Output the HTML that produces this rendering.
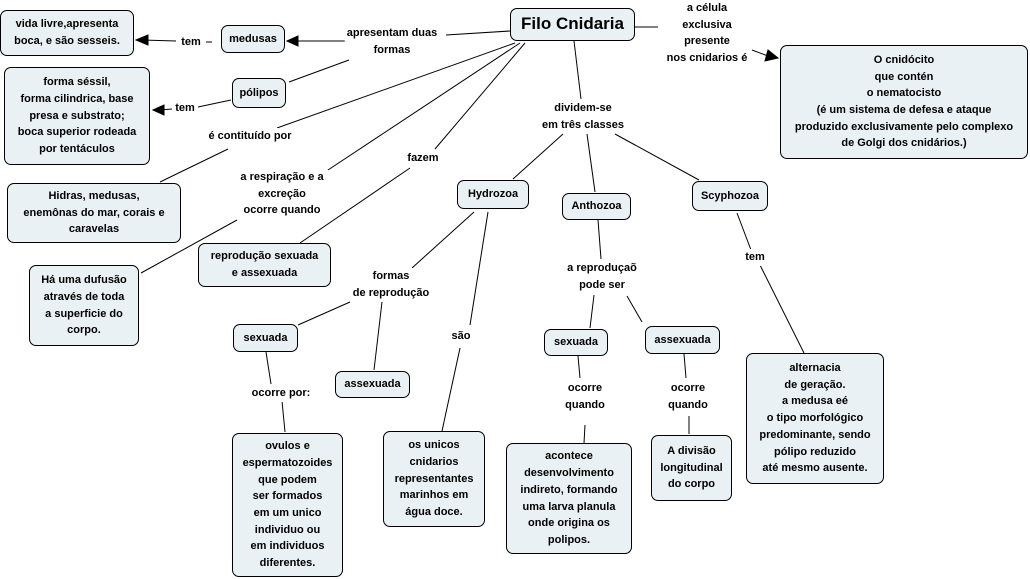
<!DOCTYPE html>
<html><head><meta charset="utf-8"><style>
body{margin:0;width:1030px;height:579px;background:#fff;position:relative;overflow:hidden;font-family:"Liberation Sans",sans-serif;font-weight:bold;font-size:11px;color:#000}
.b{position:absolute;box-sizing:border-box;background:#eaf1f4;border:1px solid #000;border-radius:7px;display:flex;align-items:center;justify-content:center;text-align:center;line-height:16.7px}
.l{position:absolute;text-align:center;line-height:16.7px;background:#fff;transform:translateX(-50%);white-space:nowrap;padding:0 2px}
svg{position:absolute;left:0;top:0}
</style></head><body>
<svg width="1030" height="579" stroke="#000" stroke-width="1" fill="none">
<line x1="510" y1="31" x2="446" y2="35"/>
<line x1="349" y1="41" x2="291" y2="41"/>
<polygon points="287,41 298,36 298,46" fill="#000"/>
<line x1="212" y1="42" x2="206" y2="42"/>
<line x1="176" y1="41" x2="142" y2="40"/>
<polygon points="136,40 148,35 148,45" fill="#000"/>
<line x1="349" y1="60" x2="289" y2="82"/>
<line x1="231" y1="100" x2="198" y2="107"/>
<line x1="172" y1="109" x2="160" y2="110"/>
<polygon points="153,110 164,105 164,115" fill="#000"/>
<line x1="515" y1="43" x2="277" y2="128"/>
<line x1="228" y1="149" x2="160" y2="182"/>
<line x1="520" y1="43" x2="328" y2="170"/>
<line x1="237" y1="220" x2="141" y2="273"/>
<line x1="525" y1="43" x2="435" y2="149"/>
<line x1="410" y1="168" x2="300" y2="243"/>
<line x1="634" y1="27" x2="658" y2="27"/>
<line x1="752" y1="50" x2="768" y2="56"/>
<polygon points="778,58 765,61 768,50" fill="#000"/>
<line x1="574" y1="41" x2="581" y2="99"/>
<line x1="563" y1="134" x2="513" y2="179"/>
<line x1="587" y1="134" x2="595" y2="192"/>
<line x1="615" y1="134" x2="699" y2="180"/>
<line x1="474" y1="212" x2="412" y2="268"/>
<line x1="488" y1="212" x2="470" y2="325"/>
<line x1="460" y1="348" x2="442" y2="431"/>
<line x1="350" y1="302" x2="298" y2="325"/>
<line x1="382" y1="302" x2="374" y2="370"/>
<line x1="266" y1="352" x2="271" y2="384"/>
<line x1="282" y1="401" x2="285" y2="432"/>
<line x1="598" y1="220" x2="601" y2="259"/>
<line x1="594" y1="295" x2="590" y2="328"/>
<line x1="627" y1="296" x2="642" y2="322"/>
<line x1="578" y1="356" x2="580" y2="378"/>
<line x1="585" y1="425" x2="584" y2="443"/>
<line x1="684" y1="354" x2="686" y2="378"/>
<line x1="689" y1="416" x2="689" y2="434"/>
<line x1="737" y1="213" x2="751" y2="250"/>
<line x1="760" y1="265" x2="804" y2="353"/>
</svg>
<div class="b" style="left:510px;top:8px;width:125px;height:33px;font-size:17px">Filo Cnidaria</div>
<div class="b" style="left:0;top:10px;width:134px;height:46px">vida livre,apresenta<br>boca, e são sesseis.</div>
<div class="b" style="left:221px;top:25px;width:64px;height:28px">medusas</div>
<div class="b" style="left:232px;top:78px;width:54px;height:30px">pólipos</div>
<div class="b" style="left:4px;top:67px;width:146px;height:98px">forma séssil,<br>forma cilindrica, base<br>presa e substrato;<br>boca superior rodeada<br>por tentáculos</div>
<div class="b" style="left:7px;top:183px;width:174px;height:60px">Hidras, medusas,<br>enemônas do mar, corais e<br>caravelas</div>
<div class="b" style="left:29px;top:265px;width:110px;height:81px">Há uma dufusão<br>através de toda<br>a superficie do<br>corpo.</div>
<div class="b" style="left:198px;top:243px;width:133px;height:44px">reprodução sexuada<br>e assexuada</div>
<div class="b" style="left:457px;top:180px;width:72px;height:29px">Hydrozoa</div>
<div class="b" style="left:562px;top:193px;width:69px;height:27px">Anthozoa</div>
<div class="b" style="left:692px;top:181px;width:76px;height:30px">Scyphozoa</div>
<div class="b" style="left:780px;top:45px;width:248px;height:114px;line-height:16.7px">O cnidócito<br>que contén<br>o nematocisto<br>(é um sistema de defesa e ataque<br>produzido exclusivamente pelo complexo<br>de Golgi dos cnidários.)</div>
<div class="b" style="left:233px;top:324px;width:65px;height:28px">sexuada</div>
<div class="b" style="left:335px;top:371px;width:75px;height:27px">assexuada</div>
<div class="b" style="left:544px;top:329px;width:64px;height:27px">sexuada</div>
<div class="b" style="left:645px;top:326px;width:75px;height:28px">assexuada</div>
<div class="b" style="left:232px;top:433px;width:111px;height:144px">ovulos e<br>espermatozoides<br>que podem<br>ser formados<br>em um unico<br>individuo ou<br>em individuos<br>diferentes.</div>
<div class="b" style="left:383px;top:431px;width:102px;height:96px">os unicos<br>cnidarios<br>representantes<br>marinhos em<br>água doce.</div>
<div class="b" style="left:506px;top:443px;width:126px;height:111px">acontece<br>desenvolvimento<br>indireto, formando<br>uma larva planula<br>onde origina os<br>polipos.</div>
<div class="b" style="left:651px;top:435px;width:81px;height:66px">A divisão<br>longitudinal<br>do corpo</div>
<div class="b" style="left:746px;top:353px;width:138px;height:131px">alternacia<br>de geração.<br>a medusa eé<br>o tipo morfológico<br>predominante, sendo<br>pólipo reduzido<br>até mesmo ausente.</div>
<div class="l" style="left:392px;top:25px">apresentam duas<br>formas</div>
<div class="l" style="left:191px;top:34px">tem</div>
<div class="l" style="left:185px;top:100px">tem</div>
<div class="l" style="left:250px;top:128px">é contituído por</div>
<div class="l" style="left:282px;top:169px">a respiração e a<br>excreção<br>ocorre quando</div>
<div class="l" style="left:423px;top:150px">fazem</div>
<div class="l" style="left:707px;top:0px">a célula<br>exclusiva<br>presente<br>nos cnidarios é</div>
<div class="l" style="left:583px;top:100px">dividem-se<br>em três classes</div>
<div class="l" style="left:391px;top:268px">formas<br>de reprodução</div>
<div class="l" style="left:461px;top:328px">são</div>
<div class="l" style="left:281px;top:385px">ocorre por:</div>
<div class="l" style="left:602px;top:260px">a reproduçaõ<br>pode ser</div>
<div class="l" style="left:585px;top:380px">ocorre<br>quando</div>
<div class="l" style="left:688px;top:380px">ocorre<br>quando</div>
<div class="l" style="left:755px;top:249px">tem</div>
</body></html>
